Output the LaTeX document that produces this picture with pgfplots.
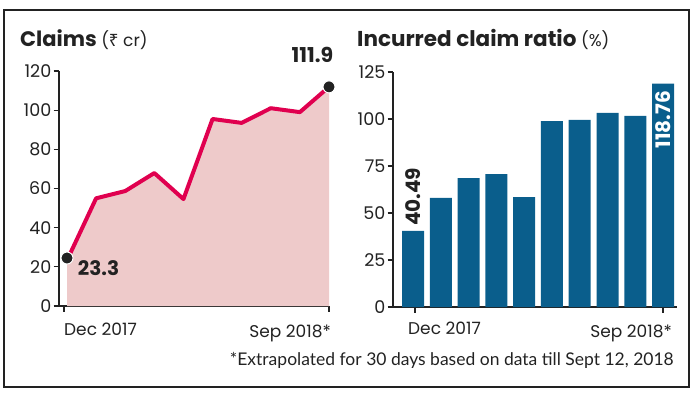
\documentclass[border=0pt]{standalone}
\usepackage{fontspec}
\setmainfont{Poppins}
\newfontfamily\footfont{Lato}
\newfontfamily\rupeefont{Noto Sans}
\usepackage{pgfplots}
\pgfplotsset{compat=1.18}
\definecolor{linered}{HTML}{E0004F}
\definecolor{pinkfill}{HTML}{EECACA}
\definecolor{barblue}{HTML}{0A5E8C}
\definecolor{ink}{HTML}{222222}
\begin{document}
\begin{tikzpicture}[x=1pt,y=1pt]
\path[use as bounding box] (0,0) rectangle (695,392);
\draw[ink, line width=1.2pt] (4,5) rectangle (689,382);
% titles
\node[anchor=base west, inner sep=0pt, text=ink] at (20,346) {\fontsize{21}{24}\selectfont\bfseries Claims \mdseries\fontsize{17}{20}\selectfont({\rupeefont ₹} cr)};
\node[anchor=base west, inner sep=0pt, text=ink] at (357,346) {\fontsize{21.5}{24}\selectfont\bfseries Incurred claim ratio \mdseries\fontsize{17}{20}\selectfont(\%)};
% x labels
\node[anchor=base west, inner sep=0pt, text=ink] at (64,57) {\fontsize{17}{19}\selectfont Dec 2017};
\node[anchor=base east, inner sep=0pt, text=ink] at (331,55) {\fontsize{17}{19}\selectfont Sep 2018*};
\node[anchor=base west, inner sep=0pt, text=ink] at (408,58) {\fontsize{17}{19}\selectfont Dec 2017};
\node[anchor=base east, inner sep=0pt, text=ink] at (672,55) {\fontsize{17}{19}\selectfont Sep 2018*};
\node[anchor=base east, inner sep=0pt, text=ink] at (674,27) {\footfont\fontsize{17.5}{19}\selectfont *Extrapolated for 30 days based on data till Sept 12, 2018};

\begin{axis}[
  at={(59pt,86pt)}, anchor=south west,
  scale only axis, width=270pt, height=235pt,
  xmin=-0.275, xmax=9, ymin=0, ymax=120,
  axis x line*=bottom, axis y line*=left,
  axis line style={ink, line width=1.2pt, -},
  xtick={-0.1,9}, xticklabels={},
  ytick={0,20,...,120},
  tick align=outside,
  major tick length=5.5pt,
  xtick style={ink, line width=2pt},
  ytick style={ink, line width=1.2pt},
  /pgf/number format/assume math mode=true,
  yticklabel style={font=\fontsize{17.5}{19}\selectfont, text=ink, inner sep=2pt},
  clip=false,
]
\addplot[fill=pinkfill, draw=none] coordinates {(0,23.3)(1,55)(2,58.7)(3,67.9)(4,54.6)(5,95.5)(6,93.5)(7,101)(8,99)(9,111.9)} \closedcycle;
\addplot[linered, line width=4pt, line join=round] coordinates {(0,23.3)(1,55)(2,58.7)(3,67.9)(4,54.6)(5,95.5)(6,93.5)(7,101)(8,99)(9,111.9)};
\addplot[only marks, mark=*, mark size=6pt, mark options={fill=ink, draw=white, line width=1pt}] coordinates {(0,24.5)(9,111.9)};
\node[anchor=base west, inner sep=0pt, text=ink] at (axis cs:0.37,15.8) {\fontsize{20}{22}\selectfont\bfseries 23.3};
\node[anchor=base east, inner sep=0pt, text=ink] at (axis cs:9.15,124.5) {\fontsize{20.5}{22}\selectfont\bfseries 111.9};
\end{axis}

\begin{axis}[
  at={(393pt,85pt)}, anchor=south west,
  scale only axis, width=284pt, height=235pt,
  xmin=-0.72, xmax=9.5, ymin=0, ymax=125,
  axis x line*=bottom, axis y line*=left,
  axis line style={ink, line width=1.2pt, -},
  xtick={0.07,9}, xticklabels={},
  ytick={0,25,...,125},
  tick align=outside,
  major tick length=5.5pt,
  xtick style={ink, line width=2pt},
  ytick style={ink, line width=1.2pt},
  /pgf/number format/assume math mode=true,
  yticklabel style={font=\fontsize{17.5}{19}\selectfont, text=ink, inner sep=2pt},
  clip=false,
]
\addplot[ybar, bar width=22pt, fill=barblue, draw=none] coordinates {(0,40.49)(1,58)(2,68.6)(3,70.7)(4,58.5)(5,98.9)(6,99.5)(7,103.2)(8,101.6)(9,118.76)};
\node[rotate=90, anchor=west, inner sep=0pt, text=ink] at (axis cs:0,43) {\fontsize{20}{22}\selectfont\bfseries 40.49};
\node[rotate=90, anchor=east, inner sep=0pt, text=white] at (axis cs:9,115) {\fontsize{20}{22}\selectfont\bfseries 118.76};
\end{axis}
\end{tikzpicture}
\end{document}
